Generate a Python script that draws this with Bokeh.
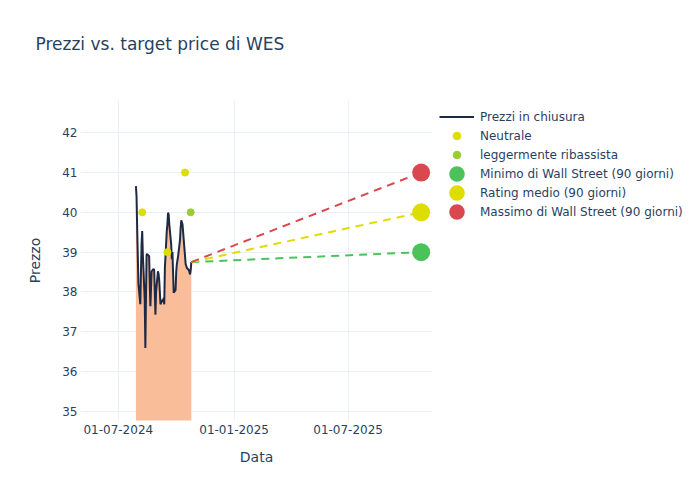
import pandas as pd
from bokeh.plotting import figure
from bokeh.models import Range1d, FixedTicker, DatetimeTickFormatter, Legend, LegendItem, ColumnDataSource, Title
from bokeh.embed import file_html
from bokeh.resources import INLINE

# ---- data ----
price_start = "2024-07-29"
price_end = "2024-10-25"
prices = [40.66, 40.40, 39.60, 38.90, 38.20, 37.69, 38.50, 39.20, 39.53, 38.94,
          37.80, 36.59, 37.90, 38.94, 38.95, 38.90, 38.20, 37.64, 38.10, 38.52,
          38.58, 38.55, 38.00, 37.43, 38.00, 38.52, 38.45, 38.30, 38.00, 37.69,
          37.80, 37.75, 37.85, 37.69, 38.60, 39.53, 39.70, 39.99, 39.95, 39.70,
          39.20, 38.82, 39.00, 38.50, 37.98, 38.05, 38.50, 38.70, 38.80, 38.90,
          39.30, 39.60, 39.80, 39.75, 39.70, 39.10, 38.90, 38.70, 38.65, 38.60,
          38.55, 38.50, 38.44, 38.55, 38.75]

neutral_dates = ["2024-08-08", "2024-09-17", "2024-10-15"]
neutral_vals = [40, 39, 41]
bear_dates = ["2024-10-24"]
bear_vals = [40]

target_date = "2025-10-25"
target_min = 39
target_avg = 40
target_max = 41

x_ticks = ["2024-07-01", "2025-01-01", "2025-07-01"]
y_ticks = [35, 36, 37, 38, 39, 40, 41, 42]

# ---- build ----
dates = pd.bdate_range(price_start, price_end)
src = ColumnDataSource(dict(x=dates, y=prices, y0=[30] * len(prices)))

TXT = "#2a3f5f"
FONT = "DejaVu Sans"
GREEN = "#4CC35A"
YELLOW = "#DDDD00"
RED = "#D9474F"

p = figure(title=None, frame_width=352, frame_height=320, x_axis_type="datetime",
           output_backend="svg", toolbar_location=None,
           min_border_left=80, min_border_right=0, min_border_top=100, min_border_bottom=64,
           x_range=Range1d(pd.Timestamp("2024-05-02"), pd.Timestamp("2025-11-12")),
           y_range=Range1d(34.77, 42.81))
p.outline_line_color = None
p.background_fill_color = "white"

# spacer between frame and title, then the title itself (further from the frame)
p.add_layout(Title(text=" ", text_font_size="1px", standoff=24), "above")
p.add_layout(Title(text="Prezzi vs. target price di WES", text_font=FONT, text_font_size="17px",
                   text_font_style="normal", text_color=TXT, offset=-45, standoff=40), "above")

p.xgrid.grid_line_color = "#EBF0F8"
p.ygrid.grid_line_color = "#EBF0F8"
p.xaxis.ticker = FixedTicker(ticks=[pd.Timestamp(t).value / 1e6 for t in x_ticks])
p.xaxis.formatter = DatetimeTickFormatter(days="%d-%m-%Y", months="%d-%m-%Y", years="%d-%m-%Y")
p.yaxis.ticker = FixedTicker(ticks=y_ticks)
for ax in (p.xaxis, p.yaxis):
    ax.axis_line_color = None
    ax.major_tick_line_color = None
    ax.minor_tick_line_color = None
    ax.major_tick_out = 0
    ax.major_tick_in = 0
    ax.major_label_text_font = FONT
    ax.major_label_text_font_size = "12px"
    ax.major_label_text_color = TXT
    ax.axis_label_text_font = FONT
    ax.axis_label_text_font_size = "14px"
    ax.axis_label_text_font_style = "normal"
    ax.axis_label_text_color = TXT
p.xaxis.axis_label = "Data"
p.yaxis.axis_label = "Prezzo"
p.xaxis.major_label_standoff = 4
p.xaxis.axis_label_standoff = 12
p.yaxis.major_label_standoff = 3
p.yaxis.axis_label_standoff = 16

p.varea(x="x", y1="y0", y2="y", source=src, fill_color="#F9BD99", fill_alpha=1.0)
r_line = p.line(x="x", y="y", source=src, line_color="#1E2A45", line_width=2)

last_d = dates[-1]
last_p = prices[-1]
td = pd.Timestamp(target_date)
p.line([last_d, td], [last_p, target_min], line_color=GREEN, line_width=2, line_dash="8 6")
p.line([last_d, td], [last_p, target_avg], line_color=YELLOW, line_width=2, line_dash="8 6")
p.line([last_d, td], [last_p, target_max], line_color=RED, line_width=2, line_dash="8 6")

r_neu = p.scatter(pd.to_datetime(neutral_dates), neutral_vals, size=7, color=YELLOW)
r_bear = p.scatter(pd.to_datetime(bear_dates), bear_vals, size=7, color="#9ACD32")
# big circles: thick outline of the same colour (also enlarges the legend swatch)
r_min = p.scatter([td], [target_min], size=10, fill_color=GREEN, line_color=GREEN, line_width=8)
r_avg = p.scatter([td], [target_avg], size=10, fill_color=YELLOW, line_color=YELLOW, line_width=8)
r_max = p.scatter([td], [target_max], size=10, fill_color=RED, line_color=RED, line_width=8)

leg = Legend(items=[LegendItem(label="Prezzi in chiusura", renderers=[r_line]),
                    LegendItem(label="Neutrale", renderers=[r_neu]),
                    LegendItem(label="leggermente ribassista", renderers=[r_bear]),
                    LegendItem(label="Minimo di Wall Street (90 giorni)", renderers=[r_min]),
                    LegendItem(label="Rating medio (90 giorni)", renderers=[r_avg]),
                    LegendItem(label="Massimo di Wall Street (90 giorni)", renderers=[r_max])],
             location="top_left", glyph_width=35, glyph_height=19, spacing=0, label_standoff=6)
leg.background_fill_alpha = 0
leg.border_line_color = None
leg.padding = 0
leg.margin = 7
leg.label_text_font = FONT
leg.label_text_font_size = "12px"
leg.label_text_color = TXT
leg.label_height = 19
p.add_layout(leg, "right")

open("out.html", "w").write(file_html(p, INLINE))
